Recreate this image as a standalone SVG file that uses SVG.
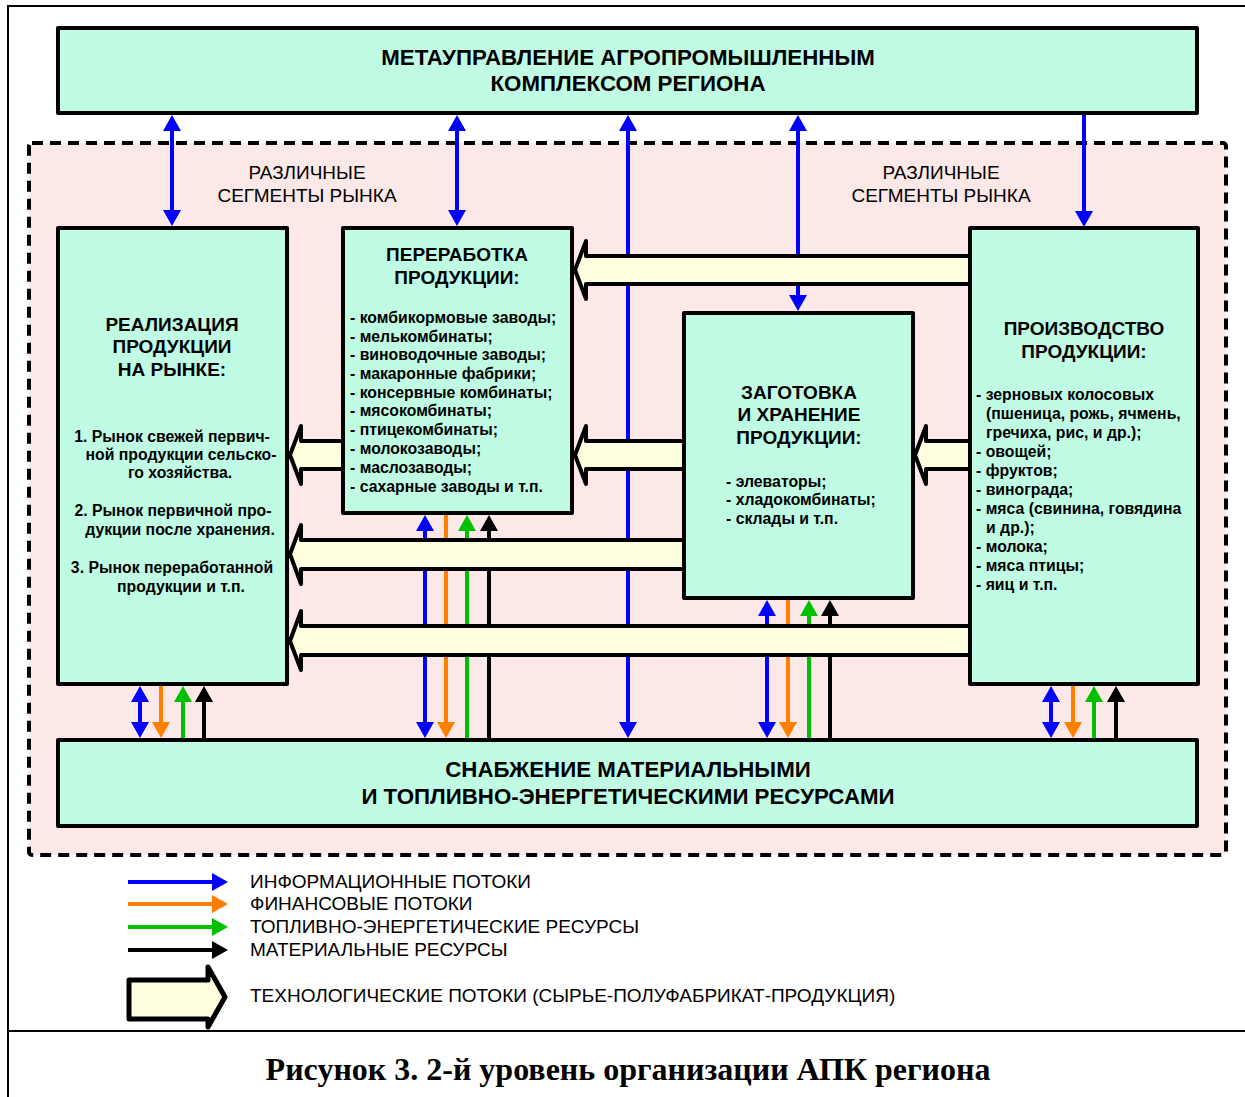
<svg xmlns="http://www.w3.org/2000/svg" width="1245" height="1097" viewBox="0 0 1245 1097">
<style>
.box{fill:#C0FCE4;stroke:#000;stroke-width:4;stroke-linejoin:round}
.zone{fill:#FDE8E8;stroke:#000;stroke-width:4;stroke-dasharray:11 7}
.frame{fill:none;stroke:#000;stroke-width:2}
.title{font-family:"Liberation Sans",Arial,sans-serif;font-weight:bold;font-size:22.3px;text-anchor:middle}
.head{font-family:"Liberation Sans",Arial,sans-serif;font-weight:bold;font-size:19px;text-anchor:middle}
.body{font-family:"Liberation Sans",Arial,sans-serif;font-weight:bold;font-size:15.8px}
.mid{text-anchor:middle}
.seg{font-family:"Liberation Sans",Arial,sans-serif;font-size:19px;text-anchor:middle}
.leg{font-family:"Liberation Sans",Arial,sans-serif;font-size:19px}
.cap{font-family:"Liberation Serif","Times New Roman",serif;font-weight:bold;font-size:32px;text-anchor:middle}
.tech{fill:#FFFFE0;stroke:#000;stroke-width:4;stroke-linejoin:round}
.b{stroke:#0000FF;stroke-width:4;fill:none}
.o{stroke:#FF8000;stroke-width:4;fill:none}
.g{stroke:#00C000;stroke-width:4;fill:none}
.k{stroke:#000;stroke-width:4;fill:none}
.b.d,.b.e{marker-end:url(#mB)}
.b.d{marker-start:url(#mB)}
.o.e{marker-end:url(#mO)}
.g.e{marker-end:url(#mG)}
.k.e{marker-end:url(#mK)}
</style>
<defs>
<marker id="mB" viewBox="0 0 16 18" markerWidth="16" markerHeight="18" refX="2" refY="9" orient="auto-start-reverse" markerUnits="userSpaceOnUse"><path d="M0,0 L16,9 L0,18 z" fill="#0000FF"/></marker>
<marker id="mO" viewBox="0 0 16 18" markerWidth="16" markerHeight="18" refX="2" refY="9" orient="auto-start-reverse" markerUnits="userSpaceOnUse"><path d="M0,0 L16,9 L0,18 z" fill="#FF8000"/></marker>
<marker id="mG" viewBox="0 0 16 18" markerWidth="16" markerHeight="18" refX="2" refY="9" orient="auto-start-reverse" markerUnits="userSpaceOnUse"><path d="M0,0 L16,9 L0,18 z" fill="#00C000"/></marker>
<marker id="mK" viewBox="0 0 16 18" markerWidth="16" markerHeight="18" refX="2" refY="9" orient="auto-start-reverse" markerUnits="userSpaceOnUse"><path d="M0,0 L16,9 L0,18 z" fill="#000"/></marker>
</defs>
<rect width="1245" height="1097" fill="#fff"/>
<path class="frame" d="M1245,6 H8 V1097 M8,1031 H1245"/>
<rect class="zone" x="29" y="143" width="1197" height="712" rx="3"/>
<text class="seg" x="307" y="179">РАЗЛИЧНЫЕ</text>
<text class="seg" x="307" y="202">СЕГМЕНТЫ РЫНКА</text>
<text class="seg" x="941" y="179">РАЗЛИЧНЫЕ</text>
<text class="seg" x="941" y="202">СЕГМЕНТЫ РЫНКА</text>

<g id="meta">
<rect class="box" x="58" y="28" width="1139" height="85"/>
<text class="title" x="628" y="65">МЕТАУПРАВЛЕНИЕ АГРОПРОМЫШЛЕННЫМ</text>
<text class="title" x="628" y="91">КОМПЛЕКСОМ РЕГИОНА</text>
</g>

<g id="realization">
<rect class="box" x="58" y="228" width="229" height="456"/>
<text class="head" x="172" y="331">РЕАЛИЗАЦИЯ</text>
<text class="head" x="172" y="353">ПРОДУКЦИИ</text>
<text class="head" x="172" y="376">НА РЫНКЕ:</text>
<text class="body mid" x="172" y="442">1. Рынок свежей первич-</text>
<text class="body mid" x="181" y="460">ной продукции сельско-</text>
<text class="body mid" x="180" y="478">го хозяйства.</text>
<text class="body mid" x="173" y="516">2. Рынок первичной про-</text>
<text class="body mid" x="180" y="535">дукции после хранения.</text>
<text class="body mid" x="172" y="573">3. Рынок переработанной</text>
<text class="body mid" x="181" y="592">продукции и т.п.</text>
</g>

<g id="processing">
<rect class="box" x="343" y="228" width="229" height="285"/>
<text class="head" x="457" y="261">ПЕРЕРАБОТКА</text>
<text class="head" x="457" y="284">ПРОДУКЦИИ:</text>
<text class="body" x="350" y="323">- комбикормовые заводы;</text>
<text class="body" x="350" y="342">- мелькомбинаты;</text>
<text class="body" x="350" y="360">- виноводочные заводы;</text>
<text class="body" x="350" y="379">- макаронные фабрики;</text>
<text class="body" x="350" y="398">- консервные комбинаты;</text>
<text class="body" x="350" y="416">- мясокомбинаты;</text>
<text class="body" x="350" y="435">- птицекомбинаты;</text>
<text class="body" x="350" y="454">- молокозаводы;</text>
<text class="body" x="350" y="473">- маслозаводы;</text>
<text class="body" x="350" y="492">- сахарные заводы и т.п.</text>
</g>

<g id="storage">
<rect class="box" x="684" y="313" width="229" height="285"/>
<text class="head" x="799" y="399">ЗАГОТОВКА</text>
<text class="head" x="799" y="421">И ХРАНЕНИЕ</text>
<text class="head" x="799" y="444">ПРОДУКЦИИ:</text>
<text class="body" x="726" y="487">- элеваторы;</text>
<text class="body" x="726" y="505">- хладокомбинаты;</text>
<text class="body" x="726" y="524">- склады и т.п.</text>
</g>

<g id="production">
<rect class="box" x="970" y="228" width="228" height="456"/>
<text class="head" x="1084" y="335">ПРОИЗВОДСТВО</text>
<text class="head" x="1084" y="358">ПРОДУКЦИИ:</text>
<text class="body" x="976" y="400">- зерновых колосовых</text>
<text class="body" x="986" y="419">(пшеница, рожь, ячмень,</text>
<text class="body" x="986" y="438">гречиха, рис, и др.);</text>
<text class="body" x="976" y="457">- овощей;</text>
<text class="body" x="976" y="476">- фруктов;</text>
<text class="body" x="976" y="495">- винограда;</text>
<text class="body" x="976" y="514">- мяса (свинина, говядина</text>
<text class="body" x="986" y="533">и др.);</text>
<text class="body" x="976" y="552">- молока;</text>
<text class="body" x="976" y="571">- мяса птицы;</text>
<text class="body" x="976" y="590">- яиц и т.п.</text>
</g>

<g id="supply">
<rect class="box" x="58" y="740" width="1139" height="86"/>
<text class="title" x="628" y="777">СНАБЖЕНИЕ МАТЕРИАЛЬНЫМИ</text>
<text class="title" x="628" y="804">И ТОПЛИВНО-ЭНЕРГЕТИЧЕСКИМИ РЕСУРСАМИ</text>
</g>

<g id="connectors">
<line class="b d" x1="172" y1="129" x2="172" y2="212"/>
<line class="b d" x1="457" y1="129" x2="457" y2="212"/>
<line class="b d" x1="628" y1="129" x2="628" y2="724"/>
<line class="b d" x1="798" y1="129" x2="798" y2="297"/>
<line class="b e" x1="1084" y1="115" x2="1084" y2="213"/>

<line class="b d" x1="140" y1="700" x2="140" y2="724"/>
<line class="o e" x1="161" y1="686" x2="161" y2="724"/>
<line class="g e" x1="183" y1="738" x2="183" y2="700"/>
<line class="k e" x1="204" y1="738" x2="204" y2="700"/>

<line class="b d" x1="425" y1="529" x2="425" y2="724"/>
<line class="o e" x1="446" y1="515" x2="446" y2="724"/>
<line class="g e" x1="467" y1="738" x2="467" y2="529"/>
<line class="k e" x1="489" y1="738" x2="489" y2="529"/>

<line class="b d" x1="767" y1="614" x2="767" y2="724"/>
<line class="o e" x1="788" y1="600" x2="788" y2="724"/>
<line class="g e" x1="809" y1="738" x2="809" y2="614"/>
<line class="k e" x1="830" y1="738" x2="830" y2="614"/>

<line class="b d" x1="1051" y1="700" x2="1051" y2="724"/>
<line class="o e" x1="1073" y1="686" x2="1073" y2="724"/>
<line class="g e" x1="1094" y1="738" x2="1094" y2="700"/>
<line class="k e" x1="1116" y1="738" x2="1116" y2="700"/>

<path class="tech" d="M968,256 H586 V241 L575,270 L586,299 V284 H968"/>
<path class="tech" d="M341,441 H301 V426 L290,455 L301,484 V469 H341"/>
<path class="tech" d="M682,441 H586 V426 L575,455 L586,484 V469 H682"/>
<path class="tech" d="M968,441 H926 V426 L915,455 L926,484 V469 H968"/>
<path class="tech" d="M682,540 H301 V525 L290,554 L301,584 V569 H682"/>
<path class="tech" d="M968,626 H301 V611 L290,641 L301,670 V655 H968"/>
</g>

<g id="legend">
<line class="b e" x1="128" y1="882" x2="214" y2="882"/>
<line class="o e" x1="128" y1="904" x2="214" y2="904"/>
<line class="g e" x1="128" y1="927" x2="214" y2="927"/>
<line class="k e" x1="128" y1="950" x2="214" y2="950"/>
<text class="leg" x="250" y="888">ИНФОРМАЦИОННЫЕ ПОТОКИ</text>
<text class="leg" x="250" y="910">ФИНАНСОВЫЕ ПОТОКИ</text>
<text class="leg" x="250" y="933">ТОПЛИВНО-ЭНЕРГЕТИЧЕСКИЕ РЕСУРСЫ</text>
<text class="leg" x="250" y="956">МАТЕРИАЛЬНЫЕ РЕСУРСЫ</text>
<path class="tech" style="stroke-width:5" d="M129,980 H208 V967 L225,997 L208,1027 V1019 H129 Z"/>
<text class="leg" x="250" y="1002">ТЕХНОЛОГИЧЕСКИЕ ПОТОКИ (СЫРЬЕ-ПОЛУФАБРИКАТ-ПРОДУКЦИЯ)</text>
</g>

<text class="cap" x="628" y="1080">Рисунок 3. 2-й уровень организации АПК региона</text>
</svg>
